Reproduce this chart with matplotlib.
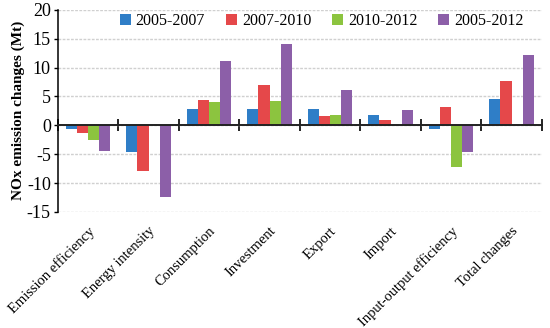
import matplotlib.pyplot as plt
import numpy as np

plt.rcParams['font.family'] = ['Liberation Serif', 'DejaVu Serif']
plt.rcParams['axes.unicode_minus'] = False

categories = ['Emission efficiency', 'Energy intensity', 'Consumption', 'Investment',
              'Export', 'Import', 'Input-output efficiency', 'Total changes']
periods = ['2005-2007', '2007-2010', '2010-2012', '2005-2012']
v_0507 = [-0.6, -4.6, 2.8, 2.8, 2.9, 1.85, -0.6, 4.5]
v_0710 = [-1.4, -7.9, 4.3, 7.0, 1.55, 0.9, 3.15, 7.65]
v_1012 = [-2.5, 0.0, 4.0, 4.2, 1.7, 0.0, -7.3, 0.0]
v_0512 = [-4.5, -12.5, 11.1, 14.0, 6.15, 2.65, -4.7, 12.2]
colors = ['#2F7EC7', '#E5484A', '#8CC43F', '#8C5FA8']

fig = plt.figure(figsize=(5.5, 3.28), dpi=100)
ax = fig.add_axes([0.105, 0.354, 0.88, 0.616])

x = np.arange(len(categories))
w = 0.183
series = [v_0507, v_0710, v_1012, v_0512]
for i, vals in enumerate(series):
    ax.bar(x + (i - 1.5) * w, vals, w, color=colors[i], label=periods[i], zorder=3)

ax.set_xlim(-0.5, len(categories) - 0.5)
ax.set_ylim(-15, 20)
ax.set_yticks(np.arange(-15, 21, 5))
ax.yaxis.grid(True, color='#d0d0d0', lw=1.0, ls=(0, (2, 1)), zorder=0)
ax.tick_params(axis='y', labelsize=13, direction='out', length=3, width=1, pad=2)

for s in ['top', 'right']:
    ax.spines[s].set_visible(False)
ax.spines['left'].set_linewidth(1.1)
ax.spines['bottom'].set_position(('data', 0))
ax.spines['bottom'].set_linewidth(1.4)
ax.spines['bottom'].set_color('#222222')
ax.spines['bottom'].set_zorder(4)
ax.set_xticks(np.arange(-0.5, len(categories), 1))
ax.set_xticklabels([])
ax.tick_params(axis='x', direction='inout', length=8, width=1.2)

# category labels sit at the bottom of the axes, not on the zero line
sec = ax.secondary_xaxis(0)
sec.set_xticks(x)
sec.set_xticklabels(categories, rotation=45, ha='right', rotation_mode='anchor', fontsize=10.5)
sec.tick_params(length=0, pad=9)
sec.spines['bottom'].set_visible(False)

ax.set_ylabel('NOx emission changes (Mt)', fontsize=11, fontweight='bold', labelpad=1)

ax.legend(loc='upper center', ncol=4, frameon=False, fontsize=11.5,
          handlelength=0.7, handleheight=0.7, handletextpad=0.3, columnspacing=1.3,
          bbox_to_anchor=(0.545, 1.055))

fig.savefig('out.png', dpi=100)
